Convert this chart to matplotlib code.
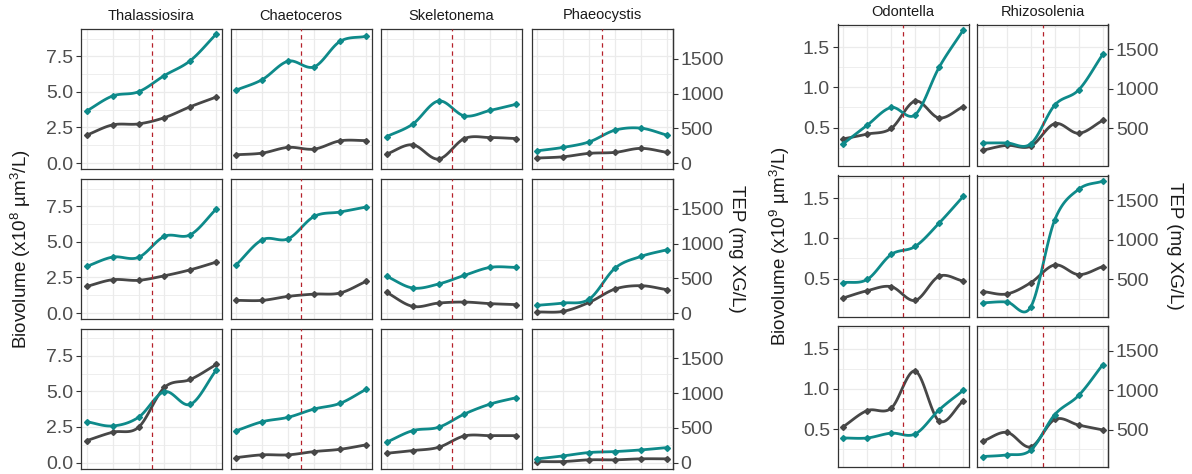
import numpy as np
import matplotlib.pyplot as plt

plt.rcParams['font.family'] = ['Liberation Sans', 'DejaVu Sans']
plt.rcParams['mathtext.fontset'] = 'custom'
plt.rcParams['mathtext.rm'] = 'Liberation Sans'
plt.rcParams['mathtext.default'] = 'regular'

# sampling days, treatment started between day 2 and 3
days = [0, 1, 2, 3, 4, 5]
event_day = 2.5

left_taxa = ['Thalassiosira', 'Chaetoceros', 'Skeletonema', 'Phaeocystis']
right_taxa = ['Odontella', 'Rhizosolenia']

# biovolume (x10^8 um3/L for the left group, x10^9 for the right), one list per row
bv_thalassiosira = [[1.96, 2.68, 2.75, 3.19, 3.96, 4.64],
                    [1.87, 2.34, 2.30, 2.62, 3.04, 3.58],
                    [1.54, 2.13, 2.48, 5.28, 5.84, 6.89]]
bv_chaetoceros = [[0.58, 0.70, 1.10, 0.98, 1.56, 1.58],
                  [0.89, 0.89, 1.17, 1.33, 1.41, 2.22],
                  [0.35, 0.54, 0.54, 0.77, 0.93, 1.24]]
bv_skeletonema = [[0.63, 1.28, 0.28, 1.72, 1.79, 1.72],
                  [1.45, 0.47, 0.70, 0.77, 0.66, 0.59],
                  [0.65, 0.84, 1.07, 1.87, 1.89, 1.89]]
bv_phaeocystis = [[0.35, 0.44, 0.68, 0.75, 1.03, 0.75],
                  [0.07, 0.12, 0.75, 1.69, 1.92, 1.64],
                  [0.07, 0.07, 0.19, 0.19, 0.26, 0.26]]
bv_odontella = [[0.36, 0.42, 0.49, 0.83, 0.62, 0.76],
                [0.26, 0.35, 0.40, 0.23, 0.53, 0.47],
                [0.53, 0.73, 0.76, 1.22, 0.60, 0.85]]
bv_rhizosolenia = [[0.22, 0.28, 0.27, 0.55, 0.43, 0.59],
                   [0.34, 0.31, 0.45, 0.67, 0.55, 0.65],
                   [0.35, 0.46, 0.28, 0.62, 0.55, 0.49]]

# TEP (mg XG/L)
tep_thalassiosira = [[750, 966, 1027, 1261, 1476, 1859],
                     [672, 806, 802, 1105, 1128, 1499],
                     [588, 527, 652, 1021, 838, 1333]]
tep_chaetoceros = [[1052, 1203, 1468, 1386, 1753, 1825],
                   [697, 1056, 1070, 1392, 1456, 1527],
                   [459, 588, 652, 771, 853, 1054]]
tep_skeletonema = [[381, 560, 894, 679, 759, 847],
                   [529, 361, 418, 543, 658, 658],
                   [293, 459, 508, 699, 843, 935]]
tep_phaeocystis = [[176, 226, 305, 474, 502, 402],
                   [111, 144, 201, 648, 816, 912],
                   [53, 96, 144, 158, 182, 215]]
tep_odontella = [[306, 541, 765, 673, 1275, 1744],
                 [459, 500, 816, 918, 1214, 1550],
                 [398, 398, 459, 449, 755, 1000]]
tep_rhizosolenia = [[316, 316, 306, 796, 989, 1438],
                    [204, 214, 153, 1255, 1642, 1744],
                    [163, 184, 245, 694, 938, 1326]]

left_bv = [bv_thalassiosira, bv_chaetoceros, bv_skeletonema, bv_phaeocystis]
left_tep = [tep_thalassiosira, tep_chaetoceros, tep_skeletonema, tep_phaeocystis]
right_bv = [bv_odontella, bv_rhizosolenia]
right_tep = [tep_odontella, tep_rhizosolenia]

TEAL = '#0E8A8A'
GREY = '#474747'
GRID = '#EBEBEB'
FRAME = '#333333'
TICKTXT = '#4D4D4D'

W, H = 1192, 474
fig = plt.figure(figsize=(W / 100, H / 100), dpi=100)


def box(x0, y0, w, h):
    return [x0 / W, 1 - (y0 + h) / H, w / W, h / H]


def spline(x, y, n=25):
    # catmull-rom curve through the points
    x = np.asarray(x, float)
    y = np.asarray(y, float)
    px = np.concatenate([[2 * x[0] - x[1]], x, [2 * x[-1] - x[-2]]])
    py = np.concatenate([[2 * y[0] - y[1]], y, [2 * y[-1] - y[-2]]])
    t = np.linspace(0, 1, n, endpoint=False)
    xs, ys = [], []
    for i in range(len(x) - 1):
        for p, out in ((px, xs), (py, ys)):
            p0, p1, p2, p3 = p[i:i + 4]
            out.append(0.5 * (2 * p1 + (p2 - p0) * t
                              + (2 * p0 - 5 * p1 + 4 * p2 - p3) * t ** 2
                              + (3 * p1 - p0 - 3 * p2 + p3) * t ** 3))
    xs.append([x[-1]])
    ys.append([y[-1]])
    return np.concatenate(xs), np.concatenate(ys)


def panel(rect, bv, tep, scale, ylim, yticks, minor, first, last, tep_ticks, xpad):
    ax = fig.add_axes(rect)
    ax.set_xlim(-xpad, 5 + xpad)
    ax.set_ylim(*ylim)
    ax.set_xticks(days)
    ax.set_yticks(yticks)
    ax.set_yticks(minor, minor=True)
    ax.grid(which='major', color=GRID, lw=0.9)
    ax.grid(which='minor', axis='y', color=GRID, lw=0.6)
    ax.set_axisbelow(True)
    ax.tick_params(axis='x', length=0, labelbottom=False)
    ax.tick_params(axis='y', which='minor', length=0)
    if first:
        ax.set_yticklabels(['%.1f' % v for v in yticks])
        ax.tick_params(axis='y', length=3.5, width=0.8, color=FRAME,
                       labelsize=14, labelcolor=TICKTXT, pad=2)
    else:
        ax.tick_params(axis='y', length=0, labelleft=False)
    for s in ax.spines.values():
        s.set_color(FRAME)
        s.set_linewidth(0.9)

    tep_y = np.array(tep) / scale
    xs, ys = spline(days, bv)
    ax.plot(xs, ys, color=GREY, lw=2.0, solid_capstyle='round', zorder=3)
    ax.plot(days, bv, 'D', color=GREY, ms=3.0, zorder=3)
    xs, ys = spline(days, tep_y)
    ax.plot(xs, ys, color=TEAL, lw=2.0, solid_capstyle='round', zorder=4)
    ax.plot(days, tep_y, 'D', color=TEAL, ms=3.0, zorder=4)
    ax.axvline(event_day, color='#B5202A', lw=0.9, ls=(0, (3.5, 3)), zorder=5)

    if last:
        sec = ax.secondary_yaxis('right', functions=(lambda v: v * scale,
                                                     lambda v: v / scale))
        sec.set_yticks(tep_ticks)
        sec.tick_params(length=3.5, width=0.8, color=FRAME,
                        labelsize=14, labelcolor=TICKTXT, pad=2)
        sec.spines['right'].set_color(FRAME)
        sec.spines['right'].set_linewidth(0.9)
    return ax


# left group: 4 taxa x 3 rows
left_x = [81, 230.7, 381, 531.7]
left_top = [29, 179, 328.5]
for r in range(3):
    for c in range(4):
        ax = panel(box(left_x[c], left_top[r], 141, 140),
                   left_bv[c][r], left_tep[c][r], 205,
                   (-0.42, 9.42), [0, 2.5, 5, 7.5], [1.25, 3.75, 6.25, 8.75],
                   c == 0, c == 3, [0, 500, 1000, 1500], 0.22)
        if r == 0:
            fig.text((left_x[c] + 70.5) / W, 1 - 15.5 / H, left_taxa[c],
                     ha='center', va='center', fontsize=10.5, color='#1A1A1A')

# right group: 2 taxa x 3 rows
right_x = [837.7, 977.3]
right_top = [24.5, 175.5, 326]
for r in range(3):
    for c in range(2):
        ax = panel(box(right_x[c], right_top[r], 131, 141),
                   right_bv[c][r], right_tep[c][r], 1020,
                   (0.03, 1.78), [0.5, 1.0, 1.5], [0.25, 0.75, 1.25, 1.75],
                   c == 0, c == 1, [500, 1000, 1500], 0.23)
        if r == 0:
            fig.text((right_x[c] + 65.5) / W, 1 - 11.5 / H, right_taxa[c],
                     ha='center', va='center', fontsize=10.5, color='#1A1A1A')

fig.text(21 / W, 1 - 249 / H, r'Biovolume (x10$^8$ µm$^3$/L)', rotation=90,
         ha='center', va='center', fontsize=13.5, color='#1A1A1A')
fig.text(737 / W, 1 - 249 / H, 'TEP (mg XG/L)', rotation=-90,
         ha='center', va='center', fontsize=13.5, color='#1A1A1A')
fig.text(780 / W, 1 - 246 / H, r'Biovolume (x10$^9$ µm$^3$/L)', rotation=90,
         ha='center', va='center', fontsize=13.5, color='#1A1A1A')
fig.text(1175 / W, 1 - 246 / H, 'TEP (mg XG/L)', rotation=-90,
         ha='center', va='center', fontsize=13.5, color='#1A1A1A')

fig.savefig('out.png', dpi=100, facecolor='white')
